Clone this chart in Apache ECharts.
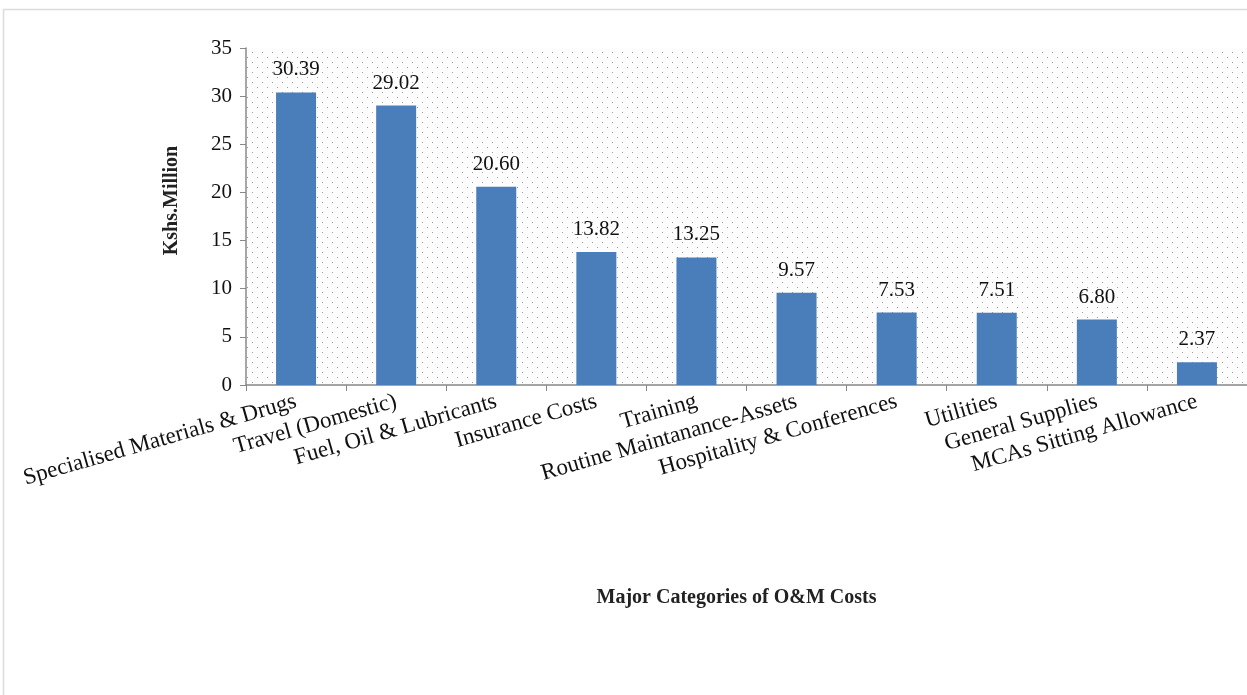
<!DOCTYPE html>
<html>
<head>
<meta charset="utf-8">
<script src="https://cdn.jsdelivr.net/npm/echarts@6/dist/echarts.min.js"></script>
<style>
  html, body { margin: 0; padding: 0; background: #fff; }
  #chart { width: 1247px; height: 695px; }
</style>
</head>
<body>
<div id="chart"></div>
<script>
// O&M cost categories
const categories = [
  'Specialised Materials & Drugs',
  'Travel (Domestic)',
  'Fuel, Oil & Lubricants',
  'Insurance Costs',
  'Training',
  'Routine Maintanance-Assets',
  'Hospitality & Conferences',
  'Utilities',
  'General Supplies',
  'MCAs Sitting Allowance'
]
const costs = [30.39, 29.02, 20.60, 13.82, 13.25, 9.57, 7.53, 7.51, 6.80, 2.37]

// dotted plot background
function dotPattern() {
  const c = document.createElement('canvas')
  c.width = 10
  c.height = 10
  const ctx = c.getContext('2d')
  ctx.fillStyle = '#fdfdfd'
  ctx.fillRect(0, 0, 10, 10)
  ctx.fillStyle = '#9a9a9a'
  ctx.fillRect(2, 2, 1, 1)
  ctx.fillRect(7, 7, 1, 1)
  return c
}

const chart = echarts.init(document.getElementById('chart'))
const font = '"Liberation Serif", "Times New Roman", serif'

chart.setOption({
  animation: false,
  textStyle: { fontFamily: font },
  graphic: [{
    type: 'rect',
    shape: { x: 3.5, y: 9.5, width: 1260, height: 700 },
    style: { fill: 'none', stroke: '#dcdcdc', lineWidth: 1.5 },
    silent: true
  }],
  grid: {
    left: 246,
    right: -10,
    top: 48,
    bottom: 310,
    show: true,
    borderWidth: 0,
    backgroundColor: { image: dotPattern(), repeat: 'repeat' }
  },
  xAxis: {
    type: 'category',
    data: categories,
    name: 'Major Categories of O&M Costs',
    nameLocation: 'middle',
    nameGap: 203,
    nameTextStyle: {
      fontFamily: font, fontWeight: 'bold', fontSize: 20, color: '#222',
      padding: [0, 0, 0, -20]
    },
    axisLine: { lineStyle: { color: '#888', width: 1.5 } },
    axisTick: { show: true, length: 6, lineStyle: { color: '#888' } },
    axisLabel: {
      interval: 0,
      rotate: 16,
      fontFamily: font,
      fontSize: 23,
      color: '#111',
      margin: 16
    }
  },
  yAxis: {
    type: 'value',
    min: 0,
    max: 35,
    interval: 5,
    name: 'Kshs.Million',
    nameLocation: 'middle',
    nameGap: 64,
    nameTextStyle: {
      fontFamily: font, fontWeight: 'bold', fontSize: 20, color: '#222',
      padding: [0, 0, 0, 32]
    },
    axisLine: { show: true, lineStyle: { color: '#888', width: 1.5 } },
    axisTick: { show: true, length: 6, lineStyle: { color: '#888' } },
    splitLine: { show: false },
    axisLabel: { fontFamily: font, fontSize: 21, color: '#111', margin: 14 }
  },
  series: [{
    type: 'bar',
    data: costs,
    barWidth: 40,
    itemStyle: { color: '#4a7ebb' },
    label: {
      show: true,
      position: 'top',
      distance: 12,
      formatter: p => p.value.toFixed(2),
      fontFamily: font,
      fontSize: 21,
      color: '#111'
    }
  }]
})
</script>
</body>
</html>
